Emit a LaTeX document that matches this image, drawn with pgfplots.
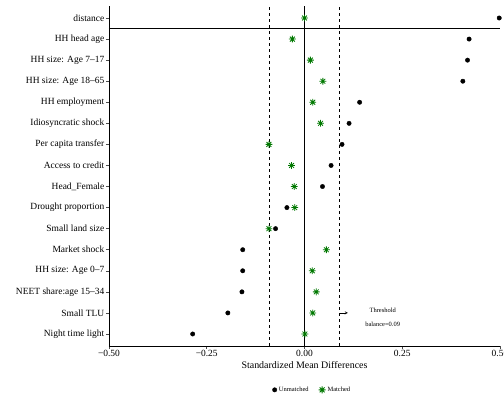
\documentclass[border=0pt]{standalone}
\usepackage{pgfplots}
\pgfplotsset{compat=1.18}
\usepackage{pgfplotstable}
\usepackage{fontspec}
\setmainfont{Liberation Serif}
\definecolor{mgreen}{RGB}{0,120,0}
\pgfdeclareplotmark{star8}{%
 \pgfpathmoveto{\pgfqpoint{-\pgfplotmarksize}{0pt}}\pgfpathlineto{\pgfqpoint{\pgfplotmarksize}{0pt}}%
 \pgfpathmoveto{\pgfqpoint{0pt}{-\pgfplotmarksize}}\pgfpathlineto{\pgfqpoint{0pt}{\pgfplotmarksize}}%
 \pgfpathmoveto{\pgfqpoint{-.7071\pgfplotmarksize}{-.7071\pgfplotmarksize}}\pgfpathlineto{\pgfqpoint{.7071\pgfplotmarksize}{.7071\pgfplotmarksize}}%
 \pgfpathmoveto{\pgfqpoint{-.7071\pgfplotmarksize}{.7071\pgfplotmarksize}}\pgfpathlineto{\pgfqpoint{.7071\pgfplotmarksize}{-.7071\pgfplotmarksize}}%
 \pgfusepathqstroke}

\pgfplotstableread{
x y
0.498 16
0.421 15
0.417 14
0.405 13
0.141 12
0.114 11
0.096 10
0.068 9
0.046 8
-0.045 7
-0.074 6
-0.158 5
-0.158 4
-0.160 3
-0.196 2
-0.286 1
}\unmatched

\pgfplotstableread{
x y
0.000 16
-0.031 15
0.015 14
0.047 13
0.021 12
0.041 11
-0.091 10
-0.033 9
-0.026 8
-0.025 7
-0.091 6
0.056 5
0.020 4
0.030 3
0.021 2
0.001 1
}\matched

\begin{document}
\begin{tikzpicture}
\begin{axis}[
  name=ax,
  scale only axis,
  width=391bp, height=340bp,
  xmin=-0.5, xmax=0.5, ymin=0.43, ymax=16.57,
  axis x line*=bottom, axis y line*=left,
  axis line style={black, line width=0.6bp},
  xtick={-0.5,-0.25,0,0.25,0.5},
  xticklabels={−0.50,−0.25,0.00,0.25,0.50},
  ytick={1,...,16},
  yticklabels={Night time light,Small TLU,NEET share:age 15–34,HH size: Age 0–7,Market shock,Small land size,Drought proportion,Head\_Female,Access to credit,Per capita transfer,Idiosyncratic shock,HH employment,HH size: Age 18–65,HH size: Age 7–17,HH head age,distance},
  tick align=outside,
  major tick length=3bp,
  tick style={black!70, line width=0.5bp},
  x tick label style={font=\fontsize{9.5}{11}\selectfont, inner sep=1bp},
  y tick label style={font=\fontsize{9.5}{11}\selectfont, inner sep=1.5bp},
  xlabel={Standardized Mean Differences},
  xlabel style={at={(axis description cs:0.5,-0.056)}, anchor=center, font=\fontsize{10}{12}\selectfont},
  legend style={at={(axis description cs:0.52,-0.129)}, anchor=center, draw=none, fill=none,
    font=\fontsize{6.5}{7}\selectfont, legend columns=2,
    /tikz/every even column/.append style={column sep=8bp}},
  legend cell align=left,
  clip=true,
]
\draw[black, line width=0.6bp] (axis cs:0,0.43) -- (axis cs:0,16.57);
\draw[black, line width=0.6bp] (axis cs:-0.5,15.5) -- (axis cs:0.5,15.5);
\draw[black, line width=0.6bp, dash pattern=on 3bp off 3bp] (axis cs:-0.09,0.43) -- (axis cs:-0.09,16.57);
\draw[black, line width=0.6bp, dash pattern=on 3bp off 3bp] (axis cs:0.09,0.43) -- (axis cs:0.09,16.57);
\addplot[only marks, mark=*, mark size=2.2bp, black] table[x=x,y=y]{\unmatched};
\addlegendentry{Unmatched}
\addplot[only marks, mark=star8, mark size=3.4bp, mgreen, line width=0.8bp] table[x=x,y=y]{\matched};
\addlegendentry{Matched}
\draw[->, >=stealth, line width=0.4bp] (axis cs:0.09,2) -- (axis cs:0.111,2);
\node[font=\fontsize{6.5}{7}\selectfont] at (axis cs:0.2,2.14) {Threshold};
\node[font=\fontsize{6.5}{7}\selectfont] at (axis cs:0.2,1.46) {balance=0.09};
\end{axis}
\pgfresetboundingbox
\path ([shift={(-109bp,-53bp)}]ax.south west) rectangle ([shift={(4bp,6bp)}]ax.north east);
\end{tikzpicture}
\end{document}
